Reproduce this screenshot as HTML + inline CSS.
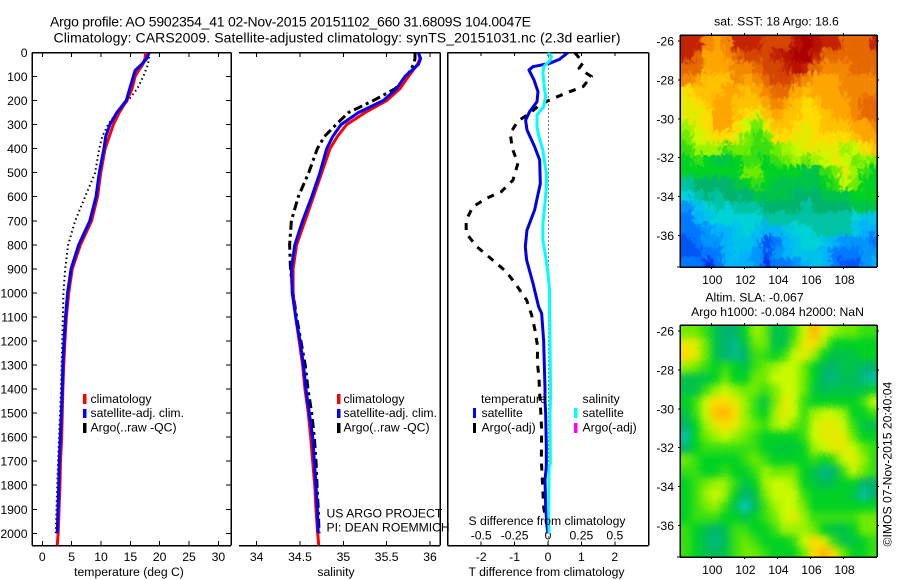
<!DOCTYPE html>
<html lang="en">
<head>
<meta charset="utf-8">
<title>Argo profile 5902354_41</title>
<style>
html,body{margin:0;padding:0;background:#fff;}
body{width:900px;height:580px;overflow:hidden;}
svg{display:block;}
text{font-family:"Liberation Sans",sans-serif;font-size:12.2px;fill:#000;}
.title{font-size:14px;}
.mid{text-anchor:middle;}
.end{text-anchor:end;}
</style>
</head>
<body>
<svg id="chart" xmlns="http://www.w3.org/2000/svg" width="900" height="580" viewBox="0 0 900 580">
  <defs>
    <clipPath id="clip-temp"><rect x="32" y="52.5" width="199" height="493"/></clipPath>
    <clipPath id="clip-sal"><rect x="239" y="52.5" width="201" height="493"/></clipPath>
    <clipPath id="clip-diff"><rect x="447.5" y="52.5" width="201" height="493"/></clipPath>
    <clipPath id="clip-sst"><rect x="680" y="35" width="197" height="232"/></clipPath>
    <clipPath id="clip-sla"><rect x="680" y="325" width="197" height="232"/></clipPath>
    <filter id="blur-sst" x="-5%" y="-5%" width="110%" height="110%" color-interpolation-filters="sRGB">
      <feGaussianBlur in="SourceGraphic" stdDeviation="1.2" result="soft"/>
      <feTurbulence type="turbulence" baseFrequency="0.16 0.11" numOctaves="2" seed="4" result="noise"/>
      <feDisplacementMap in="soft" in2="noise" scale="14" xChannelSelector="R" yChannelSelector="G"/>
    </filter>
    <filter id="blur-sla" x="-5%" y="-5%" width="110%" height="110%" color-interpolation-filters="sRGB">
      <feGaussianBlur in="SourceGraphic" stdDeviation="3.6" result="soft"/>
      <feTurbulence type="turbulence" baseFrequency="0.3 0.3" numOctaves="1" seed="7" result="noise"/>
      <feDisplacementMap in="soft" in2="noise" scale="4" xChannelSelector="R" yChannelSelector="G"/>
    </filter>
  </defs>

  <text class="title" x="50" y="26.5" textLength="481" lengthAdjust="spacing">Argo profile: AO 5902354_41 02-Nov-2015 20151102_660 31.6809S 104.0047E</text>
  <text class="title" x="53.5" y="42.5" textLength="567" lengthAdjust="spacing">Climatology: CARS2009. Satellite-adjusted climatology: synTS_20151031.nc (2.3d earlier)</text>

  <g id="axes-layer"></g>
  <g id="series-layer"></g>

  <g>
    <rect x="83" y="394" width="3.5" height="10" fill="#ff0000"/>
    <text x="90.5" y="403">climatology</text>
    <rect x="83" y="409" width="3.5" height="9" fill="#0000ff"/>
    <text x="90.5" y="417">satellite-adj. clim.</text>
    <rect x="83" y="423" width="3.5" height="10" fill="#000"/>
    <text x="90.5" y="431.5">Argo(..raw -QC)</text>
  </g>
  <g>
    <rect x="337" y="394" width="3.5" height="10" fill="#ff0000"/>
    <text x="343.5" y="403">climatology</text>
    <rect x="337" y="409" width="3.5" height="9" fill="#0000ff"/>
    <text x="343.5" y="417">satellite-adj. clim.</text>
    <rect x="337" y="423" width="3.5" height="10" fill="#000"/>
    <text x="343.5" y="431.5">Argo(..raw -QC)</text>
  </g>
  <g>
    <text x="481" y="403">temperature</text>
    <text x="582.5" y="403">salinity</text>
    <rect x="473" y="408" width="3" height="10" fill="#0000ff"/>
    <text x="481.5" y="417">satellite</text>
    <rect x="473" y="423" width="3" height="10" fill="#000"/>
    <text x="481.5" y="431.5">Argo(-adj)</text>
    <rect x="574" y="408" width="3.5" height="10" fill="#00ffff"/>
    <text x="582.5" y="417">satellite</text>
    <rect x="574" y="423" width="3.5" height="10" fill="#ff00ff"/>
    <text x="582.5" y="431.5">Argo(-adj)</text>
  </g>

  <text x="326.5" y="517.5">US ARGO PROJECT</text>
  <text x="326.5" y="531.5">PI: DEAN ROEMMICH</text>

  <text class="mid" x="129" y="576">temperature (deg C)</text>
  <text class="mid" x="336" y="576">salinity</text>
  <text class="mid" x="546.5" y="576">T difference from climatology</text>
  <text class="mid" x="547" y="525">S difference from climatology</text>

  <text class="mid" x="776.5" y="25.5">sat. SST: 18 Argo: 18.6</text>
  <text class="mid" x="754.5" y="301.5">Altim. SLA: -0.067</text>
  <text class="mid" x="777.5" y="316">Argo h1000: -0.084 h2000: NaN</text>
  <text transform="translate(891.5,546.5) rotate(-90)">©IMOS 07-Nov-2015 20:40:04</text>
</svg>

<script>
// ---- temperature panel data
const tempDepthTicks = [0,100,200,300,400,500,600,700,800,900,1000,1100,1200,1300,1400,1500,1600,1700,1800,1900,2000];
const tempTicks = [0,5,10,15,20,25,30];
const climTempDepths = [0,25,50,75,100,150,200,250,300,400,500,600,700,800,900,1000,1100,1200,1300,1400,1500,1600,1700,1800,1900,2000,2050];
const climTempValues = [17.6,17.5,17.1,16.4,15.8,15.3,14.4,13.1,12.1,10.7,9.95,9.4,8.4,6.5,5.1,4.5,4.1,3.85,3.65,3.5,3.4,3.3,3.1,3.0,2.85,2.7,2.55];
const satTempDepths = [0,25,50,75,100,150,200,250,300,350,400,500,600,700,800,900,1000,1100,1200,1300,1400,1500,1600,1700,1800,1900,2000];
const satTempValues = [18.2,17.8,16.9,15.8,15.5,14.9,14.3,12.7,11.5,10.8,10.5,9.7,9.15,8.1,6.2,4.9,4.3,3.95,3.7,3.5,3.4,3.25,3.07,2.9,2.8,2.67,2.55];
const argoTempDepths = [0,50,100,150,200,250,300,350,400,500,600,700,800,900,1000,1100,1200,1300,1400,1600,1800,2000];
const argoTempValues = [18.3,18,17.2,16.2,14.6,12.7,11.2,10.2,9.7,9,7.3,5.6,4.4,3.9,3.6,3.5,3.4,3.3,3.2,2.85,2.55,2.3];

// ---- salinity panel data
const salTicks = [34,34.5,35,35.5,36];
const salDepths = [0,25,50,100,150,200,250,300,350,400,500,600,700,800,900,1000,1100,1200,1300,1400,1500,1600,1700,1800,1900,2000];
const climSalValues = [35.865,35.885,35.854,35.75,35.654,35.5,35.25,35.038,34.93,34.846,34.75,34.654,34.558,34.46,34.42,34.42,34.45,34.49,34.53,34.557,34.595,34.623,34.646,34.67,34.684,34.704];
const satSalValues = [35.865,35.892,35.865,35.71,35.615,35.46,35.173,34.973,34.877,34.808,34.73,34.635,34.53,34.44,34.40,34.41,34.45,34.5,34.54,34.569,34.607,34.646,34.665,34.684,34.7,34.71];
const argoSalValues = [35.827,35.827,35.81,35.73,35.6,35.346,35.058,34.915,34.78,34.7,34.6,34.48,34.4,34.38,34.39,34.42,34.46,34.51,34.56,34.592,34.635,34.665,34.684,34.696,34.71,34.72];
const climSalEndDepths = [2000,2050];
const climSalEndValues = [34.704,34.716];

// ---- difference panel data
const diffTTicks = [-2,-1,0,1,2];
const diffSTicks = [-0.5,-0.25,0,0.25,0.5];
const diffSTickLabels = ['-0.5','-0.25','0','0.25','0.5'];
const satDiffTDepths = [0,28,45,59,73,114,163,205,246,281,322,392,447,545,655,739,808,863,960,1058,1085,1200,1300,1395,1445,1501,1640,1723,1778,1889,1972,2000];
const satDiffTValues = [0.6,0.35,0.05,-0.45,-0.57,-0.42,-0.3,-0.33,-0.55,-0.67,-0.63,-0.4,-0.25,-0.23,-0.4,-0.63,-0.68,-0.64,-0.45,-0.28,-0.19,-0.13,-0.11,-0.09,-0.09,-0.07,-0.05,-0.05,-0.09,-0.07,-0.03,0];
const argoDiffTDepths = [0,42,66,100,142,163,191,218,253,285,336,399,461,531,579,607,642,697,752,808,870,912,959,1030,1092,1154,1224,1286,1354,1417,1487,1570,1695,1750,1889,1945];
const argoDiffTValues = [0.8,1.05,0.93,1.3,1.05,0.65,0.15,-0.25,-0.55,-0.9,-1.13,-1.07,-0.9,-1.05,-1.4,-1.85,-2.25,-2.45,-2.45,-2.13,-1.6,-1.25,-0.99,-0.64,-0.49,-0.39,-0.31,-0.32,-0.27,-0.25,-0.22,-0.19,-0.2,-0.18,-0.13,-0.07];
const satDiffSDepths = [0,17,31,59,87,156,184,225,260,309,350,406,461,503,558,641,711,780,849,919,988,1058,1200,1362,1417,1501,1709,1723,1917,2000];
const satDiffSValues = [0,0.025,0.018,-0.032,-0.038,-0.025,-0.018,-0.032,-0.082,-0.082,-0.068,-0.038,-0.025,-0.012,-0.012,-0.025,-0.038,-0.038,-0.018,0,0.012,0.012,0.015,0.018,0.02,0.015,0.018,0.008,0.005,0.008];

// ---- map data (colour-scale levels, north row first, west column first)
const latTicks = [-26,-28,-30,-32,-34,-36];
const lonTicks = [100,102,104,106,108];
const sstLevels = [
[12,12,10.5,10,10.5,12,12,12,11.5,11.5,11.5,12.5,13,12.5,12,12,11,11,11,12],
[12,11,10,10,10.5,11,11.5,11.5,11.5,12,12.5,13,13,12,11,11,11,11,11,11],
[11,11,10,10,10,10.5,10.5,11,11.5,11.5,12,12.5,12,11,10.5,10.5,10.5,11,11,11],
[10.5,10,9.5,9.5,9.5,10.5,10,10.5,11,11.5,11.5,11,10.5,10,10,10,10.5,10.5,10.5,10.5],
[9,9.5,9.5,9.5,10,10,9.5,10,10.5,11,11,10,9.5,10,10,10,10.5,10.5,10.5,10.5],
[8.5,9,9.5,10,10,9.5,9.5,9.5,10,10.5,10,9.5,9,9.5,10,10,10,10.5,11,11],
[8.5,8.5,9,10,10,9.5,9,8.5,9.5,10,9.5,9.5,9,9,9.5,10,10,10.5,11,11],
[7.5,8.5,9,10,10,9,8,7,8.5,9.5,9.5,9,8.5,9,9.5,9.5,9.5,10,10,10.5],
[7,8,8.5,9,9,8.5,7,6.5,7,9,9,8.5,8.5,9,9,9,9,9.5,10,10],
[6.5,7.5,7.5,7.5,6.5,7,7,6.5,6.5,7,7.5,8,8.5,8.5,8.5,8.5,7.5,8,9,9.5],
[6,6.5,6,5.5,5.5,6,6.5,6.5,6,6.5,7,7.5,7,7.5,8,8.5,8,7,7.5,7],
[6,6,6,6,6,6,7,7,6,6,6,6,5.5,5.5,6.5,7,8.5,7.5,6.5,6],
[4.5,5,5,5,5,5.5,6,6.5,6,5.5,5.5,5.5,5.5,5.5,6,6.5,8,7,6,6],
[4,4.5,5,4.5,5,5,5,5.5,5.5,5.5,5.5,5,5,5,5.5,5.5,5.5,6,6,6],
[2.5,3.5,4,4.5,4,4.5,4.5,4.5,5,5,5,5,4.5,5,5,5,5,5.5,5.5,5.5],
[2,3,3.5,4,4,4,4,4,4.5,4.5,4.5,4.5,4.5,4.5,4.5,4.5,4.5,4,3.5,3.5],
[2,2,2.5,3,3,3.5,4,3.5,3,3,3.5,4,4,4.5,4.5,4.5,4.5,3.5,3,3],
[1.5,2,2.5,2.5,3,3.5,3.5,3,1.5,2,3,3.5,4,4,3.5,3,2.5,2.5,2.5,2],
[1.5,1.5,2,2,3,3.5,3,2.5,1.5,2.5,3,3.5,3.5,3.5,3,2,2,2,2.5,2.5],
[2,2,1,2,3,3,3,2.5,1,2,2,2.5,3,3.5,3,2,1.5,1.5,2.5,3]
];
const slaLevels = [
[7,7,6.5,5.5,5,5,6,7.5,7,5.5,5.5,6.5,8,9.7,8.5,7.5,7,7,6.5,6.5],
[8.5,8.5,7,5.5,5,4.7,5.5,7,7,5.5,5.5,7,8.5,9,7.5,6,6,6,6,6],
[9,8.5,7,5.5,5,4.7,5,6.5,6.5,6,6.5,8,8.5,7.5,6,5.5,5.5,5.5,6,6],
[7.5,7,6.5,6,6.5,6,5.5,6.5,7,7.5,8,8,7,6,5.2,5,5.5,5.5,5,5],
[5.5,5.5,5.5,6,7,6,6,7,7,8,8,8,7,6,5,4.8,5.3,5.3,4.8,4.5],
[5.5,5.5,6.5,7.5,8,7.5,7,7,6.5,7,8,8,7,5.7,5.3,5.5,5.5,5.5,5.5,6],
[6,6.5,8,9,9,8.5,7.5,6.5,5.5,7,8.5,8,6.5,6,6,6,6,6,6.5,8],
[5.5,6.5,8,9.5,9.8,9,7.5,6.5,6,7.5,8.5,8,6.5,7.5,8,8,7.5,6,6,6.5],
[5,6,7.5,8.5,9,8.5,7.5,7,6.5,7.5,8,7,6.5,8,8.5,8.5,8,6.5,5.5,5.5],
[4.5,6,7,7.5,8,7.5,7,6.5,6,6,6,6,6.5,8,8.5,8.5,8.5,7,6,6],
[5,6,6.5,6.5,6.5,6.5,6.5,6.5,6,5.7,5.7,5.7,6,7.5,8,8.5,8.5,8,7,6.5],
[7,6.5,6,6,6,6,6.5,7,6.5,6,6,6,6,6.5,6,6.5,8,8.5,7.5,6.5],
[6.5,6.5,6,6,6.5,6,6,6.5,7.5,7,7,7,6,5.5,4.8,5,6.5,8,7,6.5],
[6,6.5,7,7.5,7.5,6.5,5.5,6,7.5,8,8,7.5,6,5.7,5.3,5.5,6,6,5,5],
[6,6.5,7.5,8,7.5,6,5,5.5,7,8,8,8,6.5,6,6,6,6,5.5,4.5,5],
[6,6.5,7,7.5,6.5,5.5,4.2,5.2,6.5,7.5,8,8,7,6,6,6,6,6,6,6],
[6,6.5,6.5,6.5,6,6,5.5,6,6.5,7,8,8.5,7.5,6.5,6.5,6.5,6.5,6.5,7,7],
[6.5,6,5.5,5,5.5,6.5,6.5,6,6,6.5,7.5,7.5,7.5,7,6,5.5,5.5,6,7,7],
[6.5,6,5.3,4.8,5.3,6.5,7,6.5,6,6,6,6.5,8,9,8.5,6.5,5.5,5.5,6,6.5],
[6.5,6,5.5,5.2,5.5,6.5,7,7,6.5,6,6,6,7,9,9.7,9,7,6,6,6.5]
];
const colorStops = [[0,0,170],[0,50,235],[0,120,255],[0,180,250],[0,210,215],[0,180,110],[0,210,35],[110,235,0],[200,250,0],[255,220,0],[255,165,0],[230,105,0],[195,35,0],[170,0,0]];

// ---- axis functions
const NS = 'http://www.w3.org/2000/svg';
const yDepth = d => 52.5 + d * 0.2404;
const xTemp = t => 42.3 + t * 5.87;
const xSal = s => 256.7 + (s - 34) * 86.65;
const xDiffT = t => 548 + t * 33.4;
const xDiffS = s => 548 + s * 4 * 33.4;
const lonToX = lon => 711.3 + (lon - 100) * 16.53;
const latToOffset = lat => (-lat - 26) * 19.45;
const mapLonMin = 98.07, mapLonMax = 110, mapLatMin = 25.69, mapLatMax = 37.62;

const axesLayer = document.getElementById('axes-layer');
const seriesLayer = document.getElementById('series-layer');
const svgRoot = document.getElementById('chart');

function make(tag, parent, props) {
  const el = document.createElementNS(NS, tag);
  for (const k in props) el.setAttribute(k, props[k]);
  parent.appendChild(el);
  return el;
}
function tickLine(x1, y1, x2, y2, parent) {
  const el = make('line', parent, {x1, y1, x2, y2, stroke: '#000', 'stroke-width': 1, 'shape-rendering': 'crispEdges'});
  
  
  return el;
}
function spine(x1, y1, x2, y2, parent) {
  const el = make('line', parent, {x1, y1, x2, y2, stroke: '#000', 'stroke-width': 1.5, 'shape-rendering': 'crispEdges'});
  
  
  return el;
}
function label(x, y, str, anchor, parent) {
  const el = make('text', parent, {x, y, 'text-anchor': anchor});
  el.textContent = str;
  
  
  return el;
}
function profile(name, depths, values, xFn, color, width, dash, clipId) {
  const pts = depths.map((d, i) => xFn(values[i]).toFixed(2) + ',' + yDepth(d).toFixed(2)).join(' ');
  const props = {points: pts, fill: 'none', stroke: color, 'stroke-width': width, 'stroke-linejoin': 'round', 'clip-path': 'url(#' + clipId + ')'};
  if (dash) props['stroke-dasharray'] = dash;
  const el = make('polyline', seriesLayer, props);
  
  
  return el;
}

// ---- panel frames and ticks
spine(32, 52.5, 231, 52.5, axesLayer);
spine(32, 545.5, 231, 545.5, axesLayer);
spine(32, 52.5, 32, 545.5, axesLayer);
spine(231, 52.5, 231, 545.5, axesLayer);
spine(239, 52.5, 440, 52.5, axesLayer);
spine(239, 545.5, 440, 545.5, axesLayer);
spine(440, 52.5, 440, 545.5, axesLayer);
spine(447.5, 52.5, 648.5, 52.5, axesLayer);
spine(447.5, 545.5, 648.5, 545.5, axesLayer);
spine(447.5, 52.5, 447.5, 545.5, axesLayer);
spine(648.5, 52.5, 648.5, 545.5, axesLayer);

tempDepthTicks.forEach(d => {
  tickLine(32, yDepth(d), 37, yDepth(d), axesLayer);
  tickLine(226, yDepth(d), 231, yDepth(d), axesLayer);
  label(27.5, yDepth(d) + 4.5, String(d), 'end', axesLayer);
});
tempTicks.forEach(t => {
  tickLine(xTemp(t), 52.5, xTemp(t), 57, axesLayer);
  tickLine(xTemp(t), 541, xTemp(t), 545.5, axesLayer);
  label(xTemp(t), 561, String(t), 'middle', axesLayer);
});
salTicks.forEach(s => {
  tickLine(xSal(s), 52.5, xSal(s), 57, axesLayer);
  tickLine(xSal(s), 541, xSal(s), 545.5, axesLayer);
  label(xSal(s), 561, String(s), 'middle', axesLayer);
});
diffTTicks.forEach(t => {
  tickLine(xDiffT(t), 52.5, xDiffT(t), 56, axesLayer);
  tickLine(xDiffT(t), 541.5, xDiffT(t), 545.5, axesLayer);
  label(xDiffT(t), 561, String(t), 'middle', axesLayer);
});
diffSTicks.forEach((s, i) => {
  label(xDiffS(s), 539.5, diffSTickLabels[i], 'middle', axesLayer);
});

const zeroLine = make('line', axesLayer, {x1: xDiffT(0) + 0.7, y1: 52.5, x2: xDiffT(0) + 0.7, y2: 545.5, stroke: '#000', 'stroke-width': 1, 'stroke-dasharray': '1 3', 'shape-rendering': 'crispEdges'});



// ---- profile series
profile('argo-temperature-line', argoTempDepths, argoTempValues, xTemp, '#000', 2, '1.5 3', 'clip-temp');
profile('climatology-temperature-line', climTempDepths, climTempValues, xTemp, '#ff0000', 3, '', 'clip-temp');
profile('satellite-temperature-line', satTempDepths, satTempValues, xTemp, '#0000ff', 3, '', 'clip-temp');

profile('argo-salinity-line', salDepths, argoSalValues, xSal, '#000', 3, '9 4 3 4', 'clip-sal');
profile('climatology-salinity-line', salDepths, climSalValues, xSal, '#ff0000', 3, '', 'clip-sal');
profile('climatology-salinity-deep-line', climSalEndDepths, climSalEndValues, xSal, '#ff0000', 3, '', 'clip-sal');
profile('satellite-salinity-line', salDepths, satSalValues, xSal, '#0000ff', 3, '', 'clip-sal');

profile('argo-t-difference-line', argoDiffTDepths, argoDiffTValues, xDiffT, '#000', 3, '7 7', 'clip-diff');
profile('satellite-t-difference-line', satDiffTDepths, satDiffTValues, xDiffT, '#0000e6', 3, '', 'clip-diff');
profile('satellite-s-difference-line', satDiffSDepths, satDiffSValues, xDiffS, '#00ffff', 3, '', 'clip-diff');

// ---- maps
function levelColor(v) {
  const lo = Math.max(0, Math.min(colorStops.length - 1, Math.floor(v)));
  const hi = Math.min(colorStops.length - 1, lo + 1);
  const f = v - lo;
  const c = [0, 1, 2].map(i => Math.round(colorStops[lo][i] + (colorStops[hi][i] - colorStops[lo][i]) * f));
  return 'rgb(' + c.join(',') + ')';
}
function drawMap(levels, top, clipId, filterId, cellName) {
  const wrap = make('g', svgRoot, {'clip-path': 'url(#' + clipId + ')'});
  
  
  const grid = make('g', wrap, {filter: 'url(#' + filterId + ')'});
  
  
  const rows = levels.length, cols = levels[0].length;
  const lonStep = (mapLonMax - mapLonMin) / cols;
  const latStep = (mapLatMax - mapLatMin) / rows;
  const bleed = 20; // edge cells run past the clip so the filter keeps clean edges
  levels.forEach((row, r) => {
    row.forEach((v, c) => {
      const x0 = lonToX(mapLonMin + c * lonStep) - (c === 0 ? bleed : 0);
      const x1 = lonToX(mapLonMin + (c + 1) * lonStep) + (c === cols - 1 ? bleed : 0);
      const y0 = top + 6 + latToOffset(-(mapLatMin + r * latStep)) - (r === 0 ? bleed : 0);
      const y1 = top + 6 + latToOffset(-(mapLatMin + (r + 1) * latStep)) + (r === rows - 1 ? bleed : 0);
      const cell = make('rect', grid, {x: x0, y: y0, width: x1 - x0 + 0.6, height: y1 - y0 + 0.6, fill: levelColor(v), 'shape-rendering': 'crispEdges'});
      
      
    });
  });
}
function drawMapAxes(top, labelBaseline) {
  const bottom = top + 232;
  const frame = make('g', svgRoot, {});
  
  
  spine(680, top, 877, top, frame);
  spine(680, bottom, 877, bottom, frame);
  spine(680, top, 680, bottom, frame);
  spine(877, top, 877, bottom, frame);
  lonTicks.forEach(lon => {
    tickLine(lonToX(lon), top - 2, lonToX(lon), top, frame);
    tickLine(lonToX(lon), bottom, lonToX(lon), bottom + 2, frame);
    label(lonToX(lon) + 1, labelBaseline, String(lon), 'middle', frame);
  });
  latTicks.forEach(lat => {
    const y = top + 6 + latToOffset(lat);
    tickLine(877, y, 879, y, frame);
    tickLine(678, y, 680, y, frame);
    label(674, y + 4.5, String(lat), 'end', frame);
  });
  tickLine(677, bottom, 680, bottom, frame);
}
drawMap(sstLevels, 35, 'clip-sst', 'blur-sst', 'sst');
drawMap(slaLevels, 325, 'clip-sla', 'blur-sla', 'sla');
drawMapAxes(35, 284);
drawMapAxes(325, 574);
</script>
</body>
</html>
